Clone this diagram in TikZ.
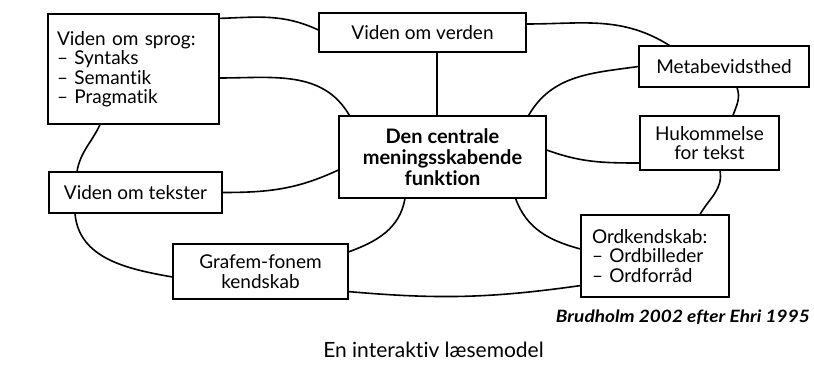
\documentclass[tikz,border=0pt]{standalone}
\usepackage{fontspec}
\setmainfont{Lato}[Ligatures=NoCommon]
\begin{document}
\begin{tikzpicture}[x=1pt,y=1pt,
  box/.style={draw, line width=1.2pt, inner sep=0pt, font=\fontsize{19}{19.5}\selectfont, align=center},
  link/.style={line width=1.6pt}]
\useasboundingbox (0,0) rectangle (814,375);
\node[box, minimum width=171pt, minimum height=110pt, text width=153pt, align=left] (sprog) at (133.5,306) {Viden om sprog:\\– Syntaks\\– Semantik\\– Pragmatik};
\node[box, minimum width=207pt, minimum height=39pt] (verden) at (422.5,342.5) {Viden om verden};
\node[box, minimum width=207pt, minimum height=82pt, font=\fontsize{20}{21}\selectfont\bfseries] (central) at (442.5,218) {Den centrale\\meningsskabende\\funktion};
\node[box, minimum width=170pt, minimum height=41pt] (meta) at (724,308.5) {Metabevidsthed};
\node[box, minimum width=139pt, minimum height=54pt] (huk) at (709.5,232) {Hukommelse\\for tekst};
\node[box, minimum width=173pt, minimum height=41pt] (tekster) at (135.5,182.5) {Viden om tekster};
\node[box, minimum width=175pt, minimum height=55pt] (grafem) at (260.5,103.5) {Grafem-fonem\\kendskab};
\node[box, minimum width=148pt, minimum height=82pt, text width=126pt, align=left] (ord) at (655,119) {Ordkendskab:\\– Ordbilleder\\– Ordforråd};
\node[anchor=east, inner sep=0pt, font=\fontsize{17}{19}\selectfont\bfseries\itshape] (src) at (810,58) {\scalebox{1.12}[1]{Brudholm 2002 efter Ehri 1995}};
\node[inner sep=0pt, font=\fontsize{21}{23}\selectfont] (title) at (433.5,25) {En interaktiv læsemodel};
% connectors
\draw[link] ([yshift=-5pt]sprog.north east) to[out=2,in=155] ([yshift=2.5pt]verden.west);
\draw[link] ([yshift=-9pt]sprog.east) to[out=0,in=120] ([xshift=11pt]central.north west);
\draw[link] ([xshift=-33.5pt]sprog.south) to[out=245,in=80] ([xshift=-58.5pt]tekster.north);
\draw[link] (tekster.east) to[out=0,in=205] ([yshift=-13pt]central.west);
\draw[link] ([xshift=-60.5pt]tekster.south) to[out=-85,in=170] ([yshift=-5.5pt]grafem.west);
\draw[link] ([yshift=-8.5pt]grafem.north east) to[out=20,in=-100] ([xshift=-37.5pt]central.south);
\draw[link] ([yshift=8pt]grafem.south east) to[out=-5,in=188] ([yshift=12pt]ord.south west);
\draw[link] ([xshift=-31pt]central.south east) to[out=-70,in=165] ([yshift=7pt]ord.west);
\draw[link] ([yshift=7pt]central.east) to[out=-20,in=180] ([yshift=-20pt]huk.west);
\draw[link] ([xshift=-18pt]central.north east) to[out=60,in=188] (meta.west);
\draw[link] ([yshift=8.5pt]verden.east) to[out=0,in=148] ([xshift=31pt]meta.north west);
\draw[link] ([xshift=13pt]meta.south) to[out=-70,in=70] ([xshift=23.5pt]huk.north);
\draw[link] ([xshift=10.5pt]huk.south) to[out=-80,in=60] ([xshift=45pt]ord.north);
\draw[link] ([xshift=14.5pt]verden.south) -- ([xshift=-5.5pt]central.north);
\end{tikzpicture}
\end{document}
